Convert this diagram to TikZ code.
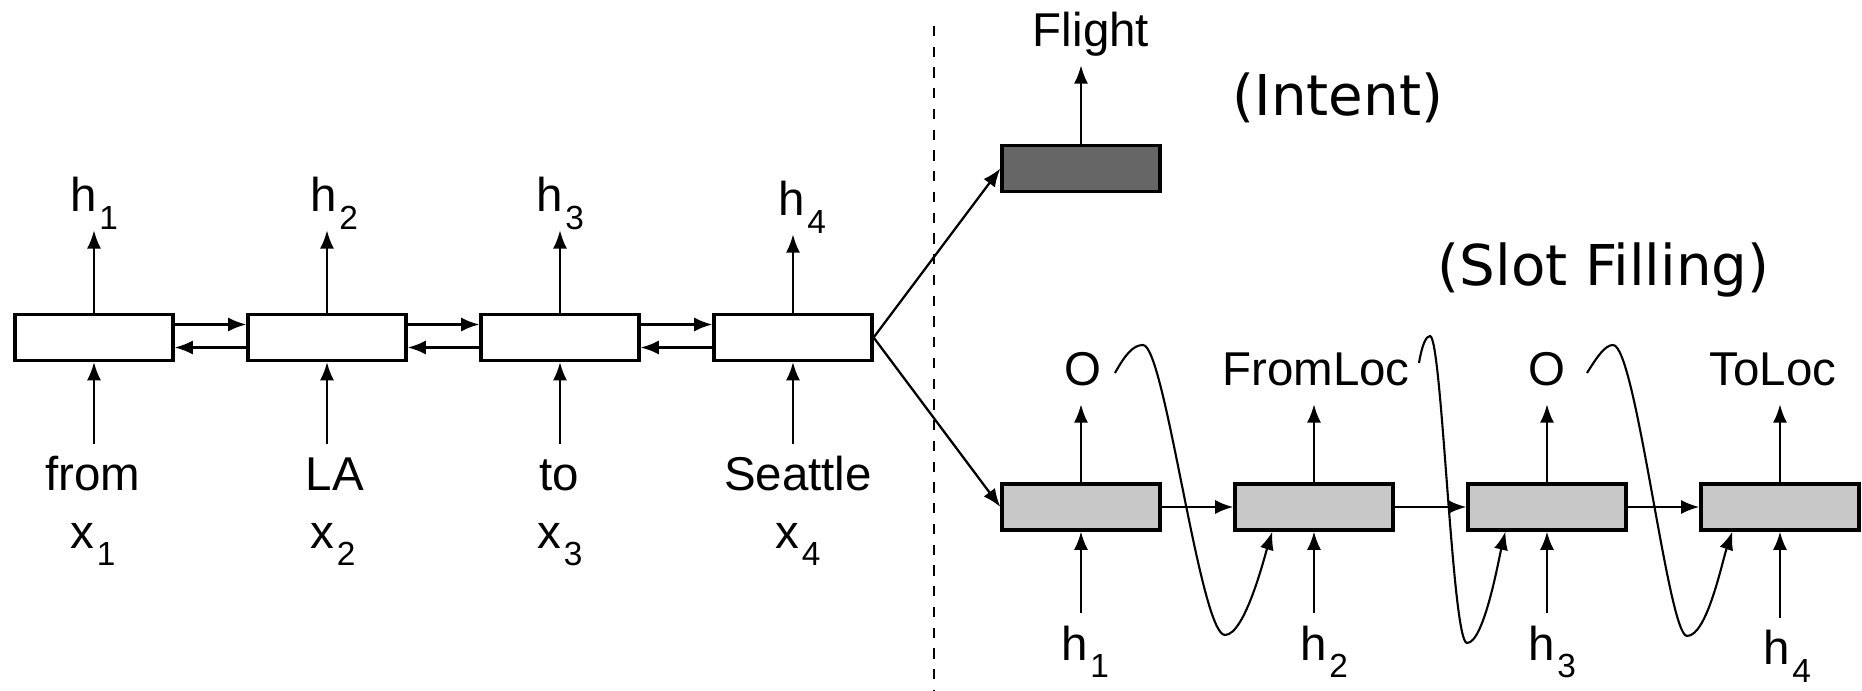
\documentclass[tikz,border=0pt]{standalone}
\usepackage{fontspec}
\setmainfont{Liberation Sans}
\newfontfamily\tagfont{DejaVu Sans}
\usepackage{tikz}
\usetikzlibrary{arrows.meta}
\definecolor{cellGray}{RGB}{200,200,200}
\definecolor{cellDark}{RGB}{102,102,102}
\newcommand{\lbsub}[2]{#1\kern0.8pt\raisebox{-5pt}{\fontsize{9.5}{10}\selectfont#2}}

\begin{document}
\begin{tikzpicture}[x=0.01cm,y=-0.01cm,
    cell/.style={draw,line width=0.9pt,minimum width=1.58cm,minimum height=0.46cm,inner sep=0pt},
    txt/.style={font=\fontsize{13.5}{16}\selectfont,anchor=base,inner sep=0pt},
    toplbl/.style={txt,text depth=0pt,inner ysep=5pt},
    botlbl/.style={txt,text height=10pt,inner ysep=3.3pt},
    tag/.style={font=\tagfont\fontsize{16}{19}\selectfont,anchor=base west,inner sep=0pt},
    arr/.style={line width=0.65pt,-{Latex[length=5.2pt,width=4pt]}}]
  \useasboundingbox (0,0) rectangle (1862,691);
  % encoder (bidirectional)
  \node[cell] (enc1) at (94,337.5) {};
  \node[cell] (enc2) at (327,337.5) {};
  \node[cell] (enc3) at (560,337.5) {};
  \node[cell] (enc4) at (793,337.5) {};
  \draw[arr] ([yshift=0.13cm]enc1.east) -- ([yshift=0.13cm]enc2.west);
  \draw[arr] ([yshift=0.13cm]enc2.east) -- ([yshift=0.13cm]enc3.west);
  \draw[arr] ([yshift=0.13cm]enc3.east) -- ([yshift=0.13cm]enc4.west);
  \draw[arr] ([yshift=-0.1cm]enc2.west) -- ([yshift=-0.1cm]enc1.east);
  \draw[arr] ([yshift=-0.1cm]enc3.west) -- ([yshift=-0.1cm]enc2.east);
  \draw[arr] ([yshift=-0.1cm]enc4.west) -- ([yshift=-0.1cm]enc3.east);
  \node[toplbl] (ht1) at (94,212) {\lbsub{h}{1}};
  \node[toplbl] (ht2) at (334,212) {\lbsub{h}{2}};
  \node[toplbl] (ht3) at (560,212) {\lbsub{h}{3}};
  \node[toplbl] (ht4) at (802,216) {\lbsub{h}{4}};
  \draw[arr] (enc1.north) -- (enc1.north |- ht1.south);
  \draw[arr] (enc2.north) -- (enc2.north |- ht2.south);
  \draw[arr] (enc3.north) -- (enc3.north |- ht3.south);
  \draw[arr] (enc4.north) -- (enc4.north |- ht4.south);
  \node[botlbl] (w1) at (93,491) {from};
  \node[botlbl] (w2) at (335,491) {LA};
  \node[botlbl] (w3) at (559,491) {to};
  \node[botlbl] (w4) at (798,491) {Seattle};
  \draw[arr] (enc1.south |- w1.north) -- (enc1.south);
  \draw[arr] (enc2.south |- w2.north) -- (enc2.south);
  \draw[arr] (enc3.south |- w3.north) -- (enc3.south);
  \draw[arr] (enc4.south |- w4.north) -- (enc4.south);
  \node[txt] (xl1) at (93,548) {\lbsub{x}{1}};
  \node[txt] (xl2) at (333,548) {\lbsub{x}{2}};
  \node[txt] (xl3) at (560,548) {\lbsub{x}{3}};
  \node[txt] (xl4) at (798,548) {\lbsub{x}{4}};
  % separator
  \draw[line width=0.6pt,dash pattern=on 2.9pt off 3pt] (934,26) -- (934,691);
  % intent branch
  \node[cell,fill=cellDark] (intent) at (1081,168.5) {};
  \node[toplbl] (flight) at (1091,47) {Flight};
  \draw[arr] (intent.north) -- (intent.north |- flight.south);
  \node[tag] (intentTag) at (1232,116) {(Intent)};
  % slot filling branch
  \node[cell,fill=cellGray] (dec1) at (1081,507) {};
  \node[cell,fill=cellGray] (dec2) at (1314,507) {};
  \node[cell,fill=cellGray] (dec3) at (1547,507) {};
  \node[cell,fill=cellGray] (dec4) at (1780,507) {};
  \node[tag] (slotTag) at (1437,286) {(Slot Filling)};
  \draw[arr] (enc4.east) -- (intent.west);
  \draw[arr] (enc4.east) -- (dec1.west);
  \draw[arr] (dec1) -- (dec2);
  \draw[arr] (dec2) -- (dec3);
  \draw[arr] (dec3) -- (dec4);
  \node[toplbl] (tg1) at (1083,386) {O};
  \node[toplbl] (tg2) at (1316,386) {FromLoc};
  \node[toplbl] (tg3) at (1547,386) {O};
  \node[toplbl] (tg4) at (1773,386) {ToLoc};
  \draw[arr] (dec1.north) -- (dec1.north |- tg1.south);
  \draw[arr] (dec2.north) -- (dec2.north |- tg2.south);
  \draw[arr] (dec3.north) -- (dec3.north |- tg3.south);
  \draw[arr] (dec4.north) -- (dec4.north |- tg4.south);
  \node[botlbl] (hb1) at (1085,660) {\lbsub{h}{1}};
  \node[botlbl] (hb2) at (1324,660) {\lbsub{h}{2}};
  \node[botlbl] (hb3) at (1552,660) {\lbsub{h}{3}};
  \node[botlbl] (hb4) at (1787,665) {\lbsub{h}{4}};
  \draw[arr] (dec1.south |- hb1.north) -- (dec1.south);
  \draw[arr] (dec2.south |- hb2.north) -- (dec2.south);
  \draw[arr] (dec3.south |- hb3.north) -- (dec3.south);
  \draw[arr] (dec4.south |- hb4.north) -- (dec4.south);
  % label fed back into the next step
  \coordinate (fb1) at (1115,373);
  \coordinate (fb2) at (1419,363);
  \coordinate (fb3) at (1587,373);
  \draw[arr,line width=0.6pt] (fb1) .. controls (1125,355) and (1133,345) .. (1143,345)
    .. controls (1165,345) and (1200,635) .. (1225,635)
    .. controls (1245,635) and (1265,555) .. ([xshift=0.39cm]dec2.south west);
  \draw[arr,line width=0.6pt] (fb2) .. controls (1422,345) and (1426,336) .. (1430,336)
    .. controls (1442,336) and (1452,643) .. (1467,643)
    .. controls (1484,643) and (1499,558) .. ([xshift=0.39cm]dec3.south west);
  \draw[arr,line width=0.6pt] (fb3) .. controls (1597,357) and (1605,345) .. (1613,345)
    .. controls (1636,345) and (1668,636) .. (1687,636)
    .. controls (1707,636) and (1722,562) .. ([xshift=0.33cm]dec4.south west);
\end{tikzpicture}
\end{document}
